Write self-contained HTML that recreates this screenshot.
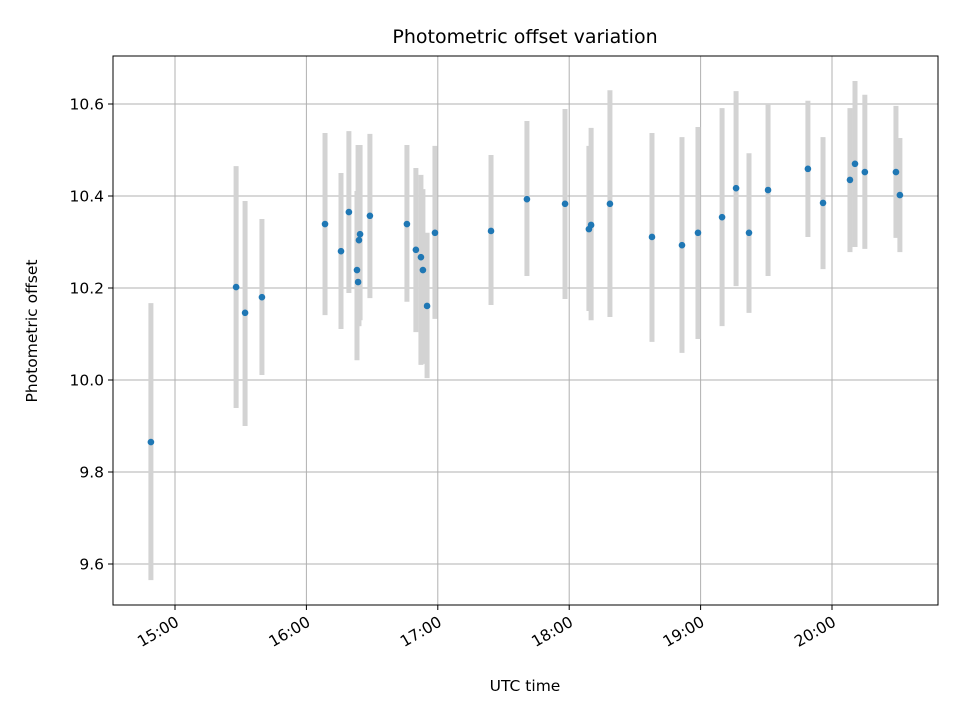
<!DOCTYPE html>
<html><head><meta charset="utf-8"><style>
html,body{margin:0;padding:0;background:#fff;}
svg text{font-family:"DejaVu Sans","Liberation Sans",sans-serif;fill:#000;}
</style></head><body>
<svg id="chart" width="960" height="720" viewBox="0 0 960 720" xmlns="http://www.w3.org/2000/svg">
<rect x="0" y="0" width="960" height="720" fill="#fff"/>
<g id="grid"></g>
<g id="bars"></g>
<g id="points"></g>
<rect x="113" y="56" width="825" height="549" fill="none" stroke="#000" stroke-width="1"/>
<g id="axes"></g>
<text x="525" y="43" style="font-size:19px" text-anchor="middle">Photometric offset variation</text>
<text x="525" y="691" style="font-size:15.5px" text-anchor="middle">UTC time</text>
<text x="37" y="331" style="font-size:15.5px" text-anchor="middle" transform="rotate(-90 37 331)">Photometric offset</text>
</svg>
<script>
// minutes after 15:00 UTC
const times = [-11,27.9,32,39.7,68.5,75.8,79.4,83.1,83.6,84.5,84,89,105.9,110,112.3,113.2,115.1,118.7,144.3,160.7,178.1,189,190,198.6,217.8,231.5,238.8,249.8,256.2,262.1,270.8,289,295.9,308.2,310.5,315,329.2,331];
const values = [9.865,10.202,10.146,10.180,10.339,10.28,10.365,10.239,10.213,10.317,10.304,10.357,10.339,10.283,10.267,10.239,10.161,10.32,10.324,10.393,10.383,10.328,10.337,10.383,10.311,10.293,10.32,10.354,10.417,10.32,10.413,10.459,10.385,10.435,10.47,10.452,10.452,10.402];
const upper = [10.167,10.465,10.389,10.35,10.537,10.45,10.541,10.411,10.511,10.511,10.496,10.535,10.511,10.461,10.446,10.415,10.32,10.509,10.489,10.563,10.589,10.509,10.548,10.63,10.537,10.528,10.55,10.591,10.628,10.493,10.6,10.607,10.528,10.591,10.65,10.62,10.596,10.526];
const lower = [9.565,9.939,9.9,10.011,10.141,10.111,10.189,10.043,10.117,10.13,10.117,10.178,10.17,10.104,10.033,10.035,10.004,10.133,10.163,10.226,10.176,10.15,10.13,10.137,10.083,10.059,10.089,10.117,10.204,10.146,10.226,10.311,10.241,10.278,10.289,10.285,10.309,10.278];
const xTicks = [0,60,120,180,240,300];
const xTickLabels = ["15:00","16:00","17:00","18:00","19:00","20:00"];
const yTicks = [9.6,9.8,10.0,10.2,10.4,10.6];
const yTickLabels = ["9.6","9.8","10.0","10.2","10.4","10.6"];

const NS="http://www.w3.org/2000/svg";
const X0=113,X1=938,Y0=56,Y1=605;
function xScale(m){return 175+m*131.4/60;}
function yScale(v){return 104+(10.6-v)*460;}
function mk(tag,attrs,parent){const e=document.createElementNS(NS,tag);for(const k in attrs)e.setAttribute(k,attrs[k]);parent.appendChild(e);return e;}
const grid=document.getElementById('grid'),axes=document.getElementById('axes'),bars=document.getElementById('bars'),pts=document.getElementById('points');

xTicks.forEach((t,i)=>{
  const x=xScale(t);
  const g=mk('line',{x1:x,x2:x,y1:Y0,y2:Y1,stroke:'#b0b0b0','stroke-width':1},grid);
  
  
  const tk=mk('line',{x1:x,x2:x,y1:Y1,y2:Y1+5,stroke:'#000','stroke-width':1},axes);
  
  
  const ax=x+5, ay=Y1+20;
  const tx=mk('text',{x:ax,y:ay,style:'font-size:15.5px','text-anchor':'end',transform:`rotate(-30 ${ax} ${ay})`},axes);
  tx.textContent=xTickLabels[i];
  
  
});
yTicks.forEach((t,i)=>{
  const y=yScale(t);
  const g=mk('line',{x1:X0,x2:X1,y1:y,y2:y,stroke:'#b0b0b0','stroke-width':1},grid);
  
  
  const tk=mk('line',{x1:X0-5,x2:X0,y1:y,y2:y,stroke:'#000','stroke-width':1},axes);
  
  
  const tx=mk('text',{x:X0-9,y:y+5.5,style:'font-size:15.5px','text-anchor':'end'},axes);
  tx.textContent=yTickLabels[i];
  
  
});
times.forEach((t,i)=>{
  const x=xScale(t);
  const b=mk('line',{x1:x,x2:x,y1:yScale(upper[i]),y2:yScale(lower[i]),stroke:'#d3d3d3','stroke-width':5},bars);
  
  
});
times.forEach((t,i)=>{
  const c=mk('circle',{cx:xScale(t),cy:yScale(values[i]),r:3.3,fill:'#1f77b4'},pts);
  
  
});
</script>
</body></html>
